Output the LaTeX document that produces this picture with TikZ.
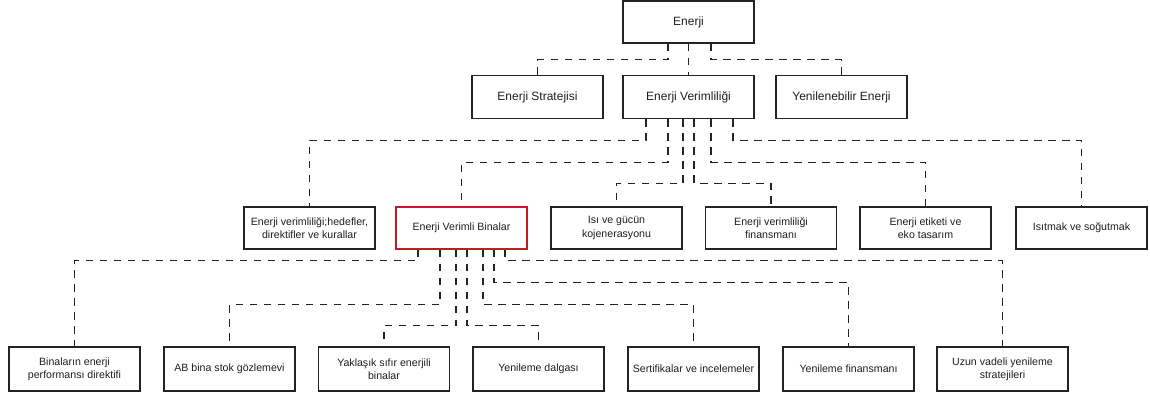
\documentclass[tikz,border=0pt]{standalone}
\usepackage{fontspec}
\setmainfont{Liberation Sans}
\definecolor{linegray}{RGB}{35,35,35}
\definecolor{boxred}{RGB}{190,30,35}
\tikzset{
  x=1pt, y=-1pt,
  box/.style={draw=linegray, line width=1.3pt, fill=white, inner sep=1pt,
    minimum width=131pt, align=center, text=black!88},
  big/.style={box, minimum height=43pt, font=\fontsize{12}{14}\selectfont},
  small/.style={box, minimum height=43pt, font=\fontsize{10.6}{13.3}\selectfont},
  redbox/.style={draw=boxred, line width=1.5pt},
  conn/.style={draw=linegray, line width=1.25pt, dash pattern=on 7.5pt off 6.5pt}
}
\begin{document}
\begin{tikzpicture}
\useasboundingbox (0,0) rectangle (1150,398);
% level 1
\node[big, minimum height=42pt] (en) at (688.5,22) {Enerji};
% level 2
\node[big] (str) at (537.5,97) {Enerji Stratejisi};
\node[big] (ev) at (688.5,97) {Enerji Verimliliği};
\node[big] (yen) at (841.5,97) {Yenilenebilir Enerji};
% level 3
\node[small, minimum height=42pt] (hed) at (309.5,228) {Enerji verimliliği;hedefler,\\direktifler ve kurallar};
\node[small, minimum height=42pt, redbox] (bin) at (461.5,228) {Enerji Verimli Binalar};
\node[small, minimum height=42pt] (isi) at (616.5,228) {Isı ve gücün\\kojenerasyonu};
\node[small, minimum height=42pt] (fin) at (771,228) {Enerji verimliliği\\finansmanı};
\node[small, minimum height=42pt] (eti) at (925.5,228) {Enerji etiketi ve\\eko tasarım};
\node[small, minimum height=42pt] (ist) at (1081.5,228) {Isıtmak ve soğutmak};
% level 4
\node[small, minimum height=44pt] (epb) at (74.5,369) {Binaların enerji\\performansı direktifi};
\node[small, minimum height=44pt] (ab) at (229.5,369) {AB bina stok gözlemevi};
\node[small, minimum height=44pt] (yak) at (384,369) {Yaklaşık sıfır enerjili\\binalar};
\node[small, minimum height=44pt] (dal) at (538.5,369) {Yenileme dalgası};
\node[small, minimum height=44pt] (ser) at (693.5,369) {Sertifikalar ve incelemeler};
\node[small, minimum height=44pt] (yfin) at (848.5,369) {Yenileme finansmanı};
\node[small, minimum height=44pt] (uzun) at (1002.5,369) {Uzun vadeli yenileme\\stratejileri};
% connectors level 1 -> 2
\draw[conn] ([xshift=-20.5pt]en.south) -- ++(0,16) -| (str.north);
\draw[conn] (en.south) -- (en.south |- ev.north);
\draw[conn] ([xshift=22.5pt]en.south) -- ++(0,16) -| (yen.north);
% connectors level 2 -> 3
\draw[conn] ([xshift=-42.5pt]ev.south) -- ++(0,21) -| (hed.north);
\draw[conn] ([xshift=-20.5pt]ev.south) -- ++(0,43) -| (bin.north);
\draw[conn] ([xshift=-5.5pt]ev.south) -- ++(0,64) -| (isi.north);
\draw[conn] ([xshift=5.5pt]ev.south) -- ++(0,64) -| (fin.north);
\draw[conn] ([xshift=22.5pt]ev.south) -- ++(0,43) -| (eti.north);
\draw[conn] ([xshift=44.5pt]ev.south) -- ++(0,21) -| (ist.north);
% connectors level 3 -> 4
\draw[conn] ([xshift=-43.5pt]bin.south) -- ++(0,11) -| (epb.north);
\draw[conn] ([xshift=-21.5pt]bin.south) -- ++(0,55) -| (ab.north);
\draw[conn] ([xshift=-5.5pt]bin.south) -- ++(0,76) -| (yak.north);
\draw[conn] ([xshift=5.5pt]bin.south) -- ++(0,76) -| (dal.north);
\draw[conn] ([xshift=21.5pt]bin.south) -- ++(0,55) -| (ser.north);
\draw[conn] ([xshift=32.5pt]bin.south) -- ++(0,33) -| (yfin.north);
\draw[conn] ([xshift=43.5pt]bin.south) -- ++(0,11) -| (uzun.north);
\end{tikzpicture}
\end{document}
